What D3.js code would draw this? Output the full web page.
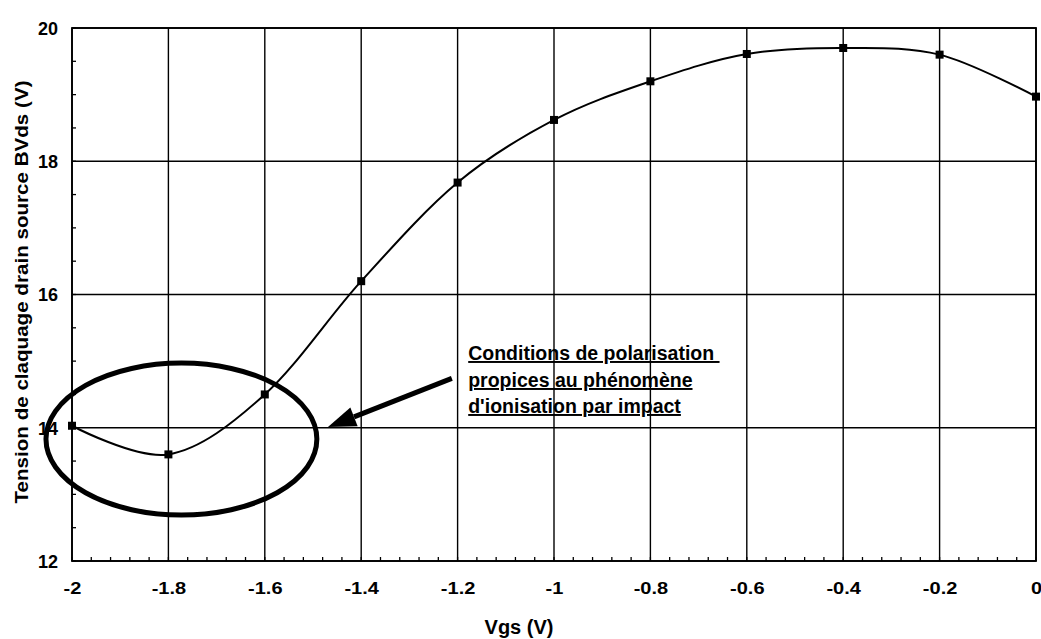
<!DOCTYPE html>
<html><head><meta charset="utf-8">
<script src="https://cdn.jsdelivr.net/npm/d3@7"></script>
<style>
html,body{margin:0;padding:0;background:#fff;}
svg{display:block;font-family:"Liberation Sans",Arial,sans-serif;}
</style></head>
<body><svg id="c" width="1041" height="639"></svg>
<script>
const vgs = [-2, -1.8, -1.6, -1.4, -1.2, -1.0, -0.8, -0.6, -0.4, -0.2, 0];
const bvds = [14.03, 13.6, 14.5, 16.2, 17.68, 18.62, 19.2, 19.61, 19.7, 19.6, 18.97];
const xTicks = [-2, -1.8, -1.6, -1.4, -1.2, -1, -0.8, -0.6, -0.4, -0.2, 0];
const yTicks = [12, 14, 16, 18, 20];
const xTitle = "Vgs (V)";
const yTitle = "Tension de claquage drain source BVds (V)";
const noteLines = ["Conditions de polarisation ", "propices au phénomène", "d'ionisation par impact"];
const noteAnchor = [-1.178, 14.0];       // text start (data coords)
const arrowTail = [-1.212, 14.74];
const arrowTip = [-1.469, 14.01];
const ellipseC = [-1.773, 13.83];
const ellipseR = [0.281, 1.14];

const svg = d3.select("#c");
const L = 72, R = 1036, T = 28, B = 561;
const x = d3.scaleLinear().domain([-2, 0]).range([L, R]);
const y = d3.scaleLinear().domain([12, 20]).range([B, T]);

// grid
const g = svg.append("g");
g.selectAll(".vg").data(xTicks).join("line")
  .attr("x1", d => x(d)).attr("x2", d => x(d)).attr("y1", T).attr("y2", B)
  .attr("stroke", "#000").attr("stroke-width", 1.4);
g.selectAll(".hg").data(yTicks).join("line")
  .attr("x1", L).attr("x2", R).attr("y1", d => y(d)).attr("y2", d => y(d))
  .attr("stroke", "#000").attr("stroke-width", 1.4);
// frame
svg.append("rect").attr("x", L).attr("y", T).attr("width", R - L).attr("height", B - T)
  .attr("fill", "none").attr("stroke", "#000").attr("stroke-width", 1.8);

// minor ticks
const yMinor = d3.range(12, 20.01, 0.5);
svg.selectAll(".ym").data(yMinor).join("line")
  .attr("x1", L).attr("x2", L + 4).attr("y1", d => y(d)).attr("y2", d => y(d))
  .attr("stroke", "#000").attr("stroke-width", 1.3);
const xMinor = d3.range(0, 51).map(i => -2 + i * 0.04);
svg.selectAll(".xm").data(xMinor).join("line")
  .attr("x1", d => x(d)).attr("x2", d => x(d)).attr("y1", B).attr("y2", B - 4)
  .attr("stroke", "#000").attr("stroke-width", 1.3);

// axes labels via d3 axes (tick labels only)
const xAxis = svg.append("g").attr("transform", `translate(0,${B})`)
  .call(d3.axisBottom(x).tickValues(xTicks).tickSize(0).tickPadding(0).tickFormat(d => d3.format("")(d).replace("−", "-")));
xAxis.select(".domain").remove();
xAxis.selectAll("text").attr("font-size", 16).attr("font-weight", "bold")
  .attr("font-family", "Liberation Sans, Arial, sans-serif").attr("fill", "#000")
  .attr("dy", null).attr("y", 0)
  .attr("transform", "translate(0,33) scale(1.25,1)");

const yAxis = svg.append("g").attr("transform", `translate(58,0)`)
  .call(d3.axisLeft(y).tickValues(yTicks).tickSize(0).tickPadding(0).tickFormat(d3.format("d")));
yAxis.select(".domain").remove();
yAxis.selectAll("text").attr("font-size", 18).attr("font-weight", "bold")
  .attr("font-family", "Liberation Sans, Arial, sans-serif").attr("fill", "#000")
  .attr("x", 0).attr("dy", "0.35em");

// titles
svg.append("text").attr("x", 519).attr("y", 634).attr("text-anchor", "middle")
  .attr("font-size", 20).attr("font-weight", "bold").text(xTitle);
svg.append("text").attr("transform", "translate(28,292) rotate(-90)")
  .attr("text-anchor", "middle").attr("font-size", 19).attr("font-weight", "bold")
  .attr("textLength", 423).attr("lengthAdjust", "spacingAndGlyphs").text(yTitle);

// curve
const pts = vgs.map((v, i) => [v, bvds[i]]);
svg.append("path").datum(pts)
  .attr("d", d3.line().x(d => x(d[0])).y(d => y(d[1])).curve(d3.curveCatmullRom.alpha(0)))
  .attr("fill", "none").attr("stroke", "#000").attr("stroke-width", 2);
svg.selectAll(".mk").data(pts).join("rect")
  .attr("x", d => x(d[0]) - 4).attr("y", d => y(d[1]) - 4).attr("width", 8).attr("height", 8)
  .attr("fill", "#000");

// ellipse annotation
svg.append("ellipse")
  .attr("cx", x(ellipseC[0])).attr("cy", y(ellipseC[1]))
  .attr("rx", x(ellipseC[0] + ellipseR[0]) - x(ellipseC[0]))
  .attr("ry", y(ellipseC[1]) - y(ellipseC[1] + ellipseR[1]))
  .attr("fill", "none").attr("stroke", "#000").attr("stroke-width", 5);

// arrow
const tx = x(arrowTail[0]), ty = y(arrowTail[1]), hx = x(arrowTip[0]), hy = y(arrowTip[1]);
const ang = Math.atan2(hy - ty, hx - tx);
const hl = 28, hw = 10;
const bx = hx - hl * Math.cos(ang), by = hy - hl * Math.sin(ang);
svg.append("line").attr("x1", tx).attr("y1", ty).attr("x2", bx).attr("y2", by)
  .attr("stroke", "#000").attr("stroke-width", 5);
svg.append("polygon").attr("points", [
  [hx, hy],
  [bx + hw * Math.sin(ang), by - hw * Math.cos(ang)],
  [bx - hw * Math.sin(ang), by + hw * Math.cos(ang)]
].map(p => p.join(",")).join(" ")).attr("fill", "#000");

// note text
const nx = x(noteAnchor[0]);
const baselines = [360, 387, 413];
noteLines.forEach((t, i) => {
  svg.append("text").attr("x", nx).attr("y", baselines[i])
    .attr("font-size", 19.5).attr("font-weight", "bold")
    .attr("text-decoration", "underline").attr("xml:space", "preserve")
    .style("white-space", "pre").text(t);
});
</script></body></html>
